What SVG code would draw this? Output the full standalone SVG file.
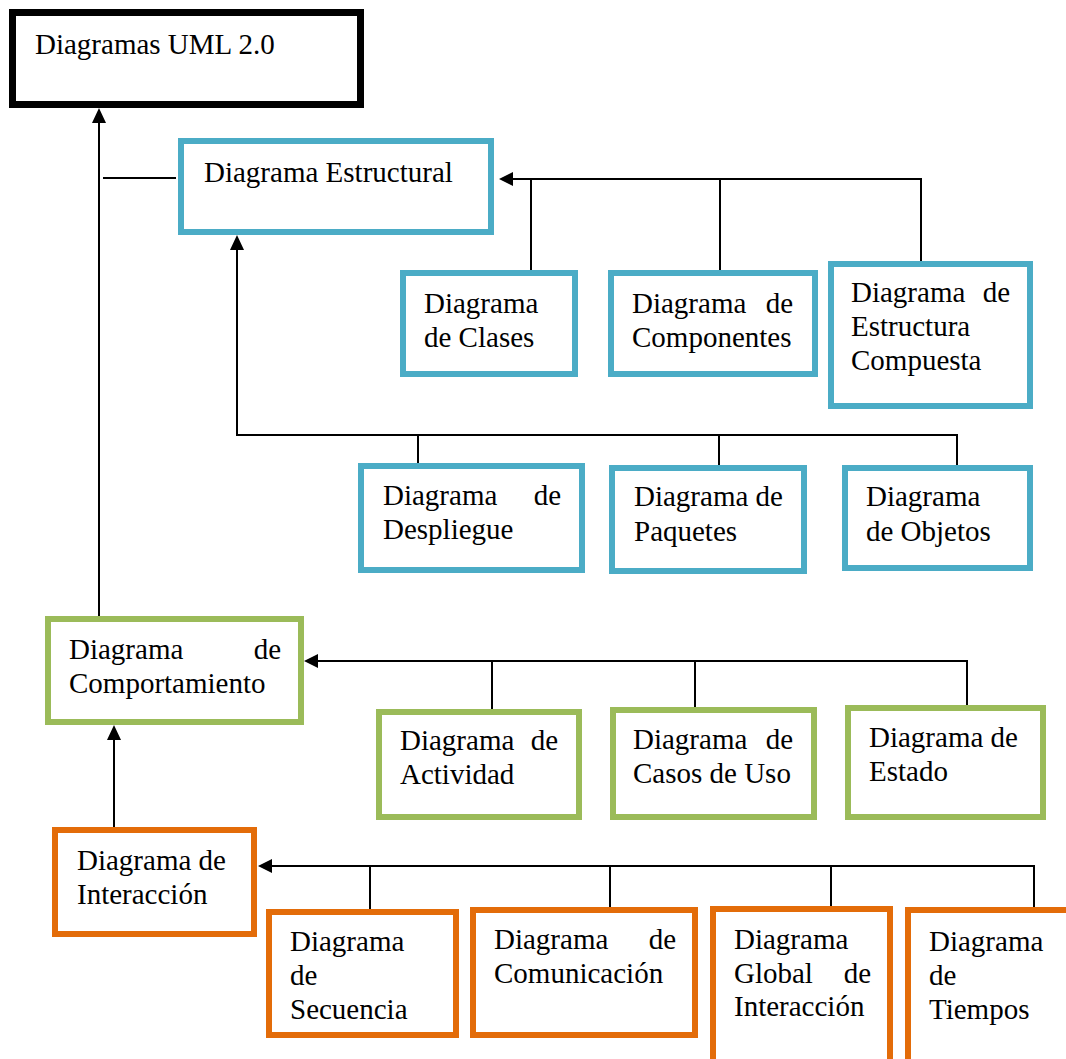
<svg xmlns="http://www.w3.org/2000/svg" width="1066" height="1059" viewBox="0 0 1066 1059">
<style>
  text { font-family: "Liberation Serif", "Times New Roman", serif; font-size: 29px; fill: #000; }
  .box { fill: #fff; stroke-width: 6; }
  .blue { stroke: #4BACC6; }
  .green { stroke: #9BBB59; }
  .orange { stroke: #E36C09; }
  .top { fill: #fff; stroke: #000; stroke-width: 7; }
  .ln { fill: none; stroke: #000; stroke-width: 2; }
  .ah { fill: #000; stroke: none; }
</style>
<rect width="1066" height="1059" fill="#fff"/>

<g id="connectors">
  <line class="ln" x1="99" y1="616" x2="99" y2="120"/>
  <polygon class="ah" points="99,108 92,123 106,123"/>
  <line class="ln" x1="103" y1="178" x2="176" y2="178"/>

  <polyline class="ln" points="921,262 921,179 511,179"/>
  <polygon class="ah" points="499,179 513,172 513,186"/>
  <line class="ln" x1="531" y1="179" x2="531" y2="270"/>
  <line class="ln" x1="720" y1="179" x2="720" y2="270"/>

  <polyline class="ln" points="237,248 237,435 957,435 957,465"/>
  <polygon class="ah" points="237,235 230,250 244,250"/>
  <line class="ln" x1="418" y1="435" x2="418" y2="463"/>
  <line class="ln" x1="719" y1="435" x2="719" y2="465"/>

  <polyline class="ln" points="967,705 967,661 316,661"/>
  <polygon class="ah" points="304,661 318,654 318,668"/>
  <line class="ln" x1="492" y1="661" x2="492" y2="709"/>
  <line class="ln" x1="695" y1="661" x2="695" y2="707"/>

  <line class="ln" x1="114" y1="827" x2="114" y2="738"/>
  <polygon class="ah" points="114,725 107,740 121,740"/>

  <polyline class="ln" points="1034,912 1034,866 270,866"/>
  <polygon class="ah" points="258,866 272,859 272,873"/>
  <line class="ln" x1="370" y1="866" x2="370" y2="909"/>
  <line class="ln" x1="610" y1="866" x2="610" y2="907"/>
  <line class="ln" x1="831" y1="866" x2="831" y2="912"/>
</g>

<g id="uml">
  <rect class="top" x="12.5" y="12.5" width="348" height="92"/>
  <text x="35" y="54">Diagramas UML 2.0</text>
</g>

<g id="estructural">
  <rect class="box blue" x="181" y="141" width="310" height="91"/>
  <text x="204" y="182">Diagrama Estructural</text>
</g>
<g id="clases">
  <rect class="box blue" x="403" y="273" width="172" height="101"/>
  <text x="424" y="313">Diagrama</text>
  <text x="424" y="347">de Clases</text>
</g>
<g id="componentes">
  <rect class="box blue" x="611" y="273" width="204" height="101"/>
  <text x="632" y="313">Diagrama</text>
  <text x="793" y="313" text-anchor="end">de</text>
  <text x="632" y="347">Componentes</text>
</g>
<g id="compuesta">
  <rect class="box blue" x="831" y="264" width="199" height="142"/>
  <text x="851" y="302">Diagrama</text>
  <text x="1010" y="302" text-anchor="end">de</text>
  <text x="851" y="336">Estructura</text>
  <text x="851" y="370">Compuesta</text>
</g>
<g id="despliegue">
  <rect class="box blue" x="361" y="466" width="221" height="104"/>
  <text x="383" y="505">Diagrama</text>
  <text x="561" y="505" text-anchor="end">de</text>
  <text x="383" y="539">Despliegue</text>
</g>
<g id="paquetes">
  <rect class="box blue" x="612" y="468" width="192" height="103"/>
  <text x="634" y="506">Diagrama de</text>
  <text x="634" y="541">Paquetes</text>
</g>
<g id="objetos">
  <rect class="box blue" x="845" y="468" width="185" height="100"/>
  <text x="866" y="506">Diagrama</text>
  <text x="866" y="541">de Objetos</text>
</g>

<g id="comportamiento">
  <rect class="box green" x="48" y="619" width="253" height="103"/>
  <text x="69" y="659">Diagrama</text>
  <text x="281" y="659" text-anchor="end">de</text>
  <text x="69" y="693">Comportamiento</text>
</g>
<g id="actividad">
  <rect class="box green" x="379" y="712" width="200" height="105"/>
  <text x="400" y="750">Diagrama</text>
  <text x="558" y="750" text-anchor="end">de</text>
  <text x="400" y="784">Actividad</text>
</g>
<g id="casos">
  <rect class="box green" x="613" y="710" width="201" height="107"/>
  <text x="633" y="749">Diagrama</text>
  <text x="793" y="749" text-anchor="end">de</text>
  <text x="633" y="783">Casos de Uso</text>
</g>
<g id="estado">
  <rect class="box green" x="848" y="708" width="195" height="109"/>
  <text x="869" y="747">Diagrama de</text>
  <text x="869" y="781">Estado</text>
</g>

<g id="interaccion">
  <rect class="box orange" x="55" y="830" width="199" height="104"/>
  <text x="77" y="870">Diagrama de</text>
  <text x="77" y="904">Interacción</text>
</g>
<g id="secuencia">
  <rect class="box orange" x="269" y="912" width="187" height="123"/>
  <text x="290" y="951">Diagrama</text>
  <text x="290" y="985">de</text>
  <text x="290" y="1019">Secuencia</text>
</g>
<g id="comunicacion">
  <rect class="box orange" x="473" y="910" width="222" height="125"/>
  <text x="494" y="949">Diagrama</text>
  <text x="676" y="949" text-anchor="end">de</text>
  <text x="494" y="983">Comunicación</text>
</g>
<g id="global">
  <rect class="box orange" x="713" y="909" width="177" height="200"/>
  <text x="734" y="949">Diagrama</text>
  <text x="734" y="983">Global</text>
  <text x="871" y="983" text-anchor="end">de</text>
  <text x="734" y="1016">Interacción</text>
</g>
<g id="tiempos">
  <rect class="box orange" x="908" y="910" width="200" height="200"/>
  <text x="929" y="951">Diagrama</text>
  <text x="929" y="985">de</text>
  <text x="929" y="1019">Tiempos</text>
</g>
</svg>
